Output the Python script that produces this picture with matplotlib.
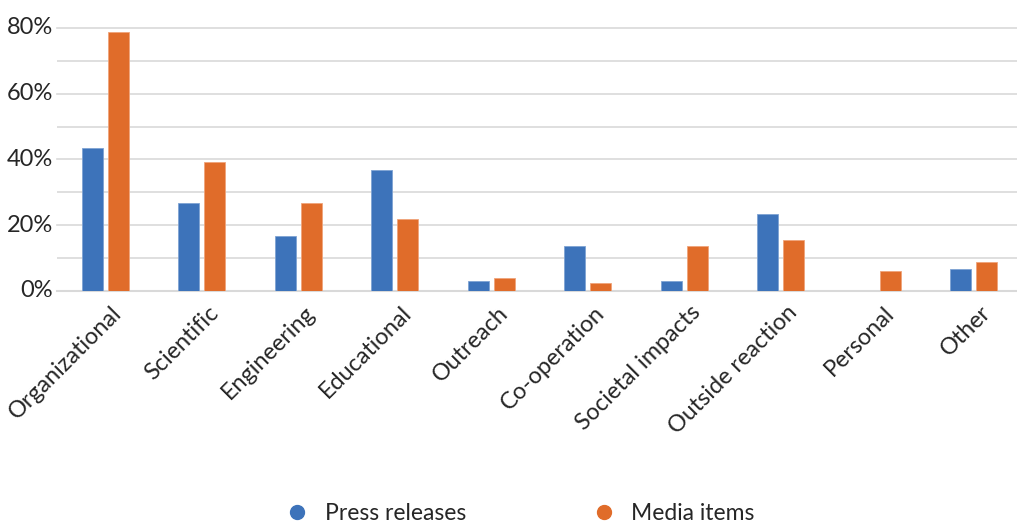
import matplotlib
matplotlib.use('Agg')
import matplotlib.pyplot as plt
import matplotlib.transforms as mtransforms
import numpy as np
from matplotlib.lines import Line2D
from matplotlib.ticker import MultipleLocator, PercentFormatter

# data (percent)
categories = ['Organizational', 'Scientific', 'Engineering', 'Educational', 'Outreach',
              'Co-operation', 'Societal impacts', 'Outside reaction', 'Personal', 'Other']
press_releases = [43.5, 26.6, 16.6, 36.7, 2.9, 13.5, 2.9, 23.4, 0.0, 6.6]
media_items = [78.6, 39.2, 26.6, 21.9, 4.0, 2.4, 13.5, 15.5, 6.1, 8.7]

blue = '#3d73ba'
orange = '#e06c2a'
text_col = '#262626'
grid_col = '#d9d9d9'

plt.rcParams['font.family'] = ['Lato', 'DejaVu Sans']

fig = plt.figure(figsize=(10.17, 5.26), dpi=100)
ax = fig.add_axes([0.056, 0.447, 0.949, 0.5])

x = np.arange(len(categories))
w = 0.22
ax.bar(x - 0.135, press_releases, w, color=blue, edgecolor='#7fa3d3', linewidth=0.6, zorder=3)
ax.bar(x + 0.135, media_items, w, color=orange, edgecolor='#f0a47a', linewidth=0.6, zorder=3)

ax.set_xlim(-0.5, len(categories) - 0.5)
ax.set_ylim(0, 80)
ax.yaxis.set_major_locator(MultipleLocator(20))
ax.yaxis.set_minor_locator(MultipleLocator(10))
ax.yaxis.set_major_formatter(PercentFormatter(decimals=0))
ax.grid(axis='y', which='both', color=grid_col, linewidth=1.2, zorder=0)
ax.tick_params(axis='y', which='both', length=0, labelsize=17, labelcolor=text_col, pad=3)
for lbl in ax.get_yticklabels():
    lbl.set_verticalalignment('center')

ax.set_xticks(x)
ax.set_xticklabels(categories, rotation=45, ha='right', rotation_mode='anchor',
                   fontsize=16.8, color=text_col)
ax.tick_params(axis='x', length=0, pad=8)
# nudge the rotated labels a little to the right, as in the original
shift = mtransforms.ScaledTranslation(6 / 100, 0, fig.dpi_scale_trans)
for lbl in ax.get_xticklabels():
    lbl.set_transform(lbl.get_transform() + shift)

for s in ['top', 'right', 'left']:
    ax.spines[s].set_visible(False)
ax.spines['bottom'].set_color(grid_col)
ax.spines['bottom'].set_linewidth(1.5)
for gl in ax.get_ygridlines():
    gl.set_clip_on(False)

handles = [Line2D([], [], marker='o', linestyle='', markersize=10, color=blue),
           Line2D([], [], marker='o', linestyle='', markersize=10, color=orange)]
fig.legend(handles, ['Press releases', 'Media items'], loc='lower center',
           bbox_to_anchor=(0.506, -0.036), ncol=2, frameon=False, fontsize=16.5,
           handletextpad=0.2, columnspacing=5.0, labelcolor=text_col)

fig.savefig('out.png', dpi=100)
